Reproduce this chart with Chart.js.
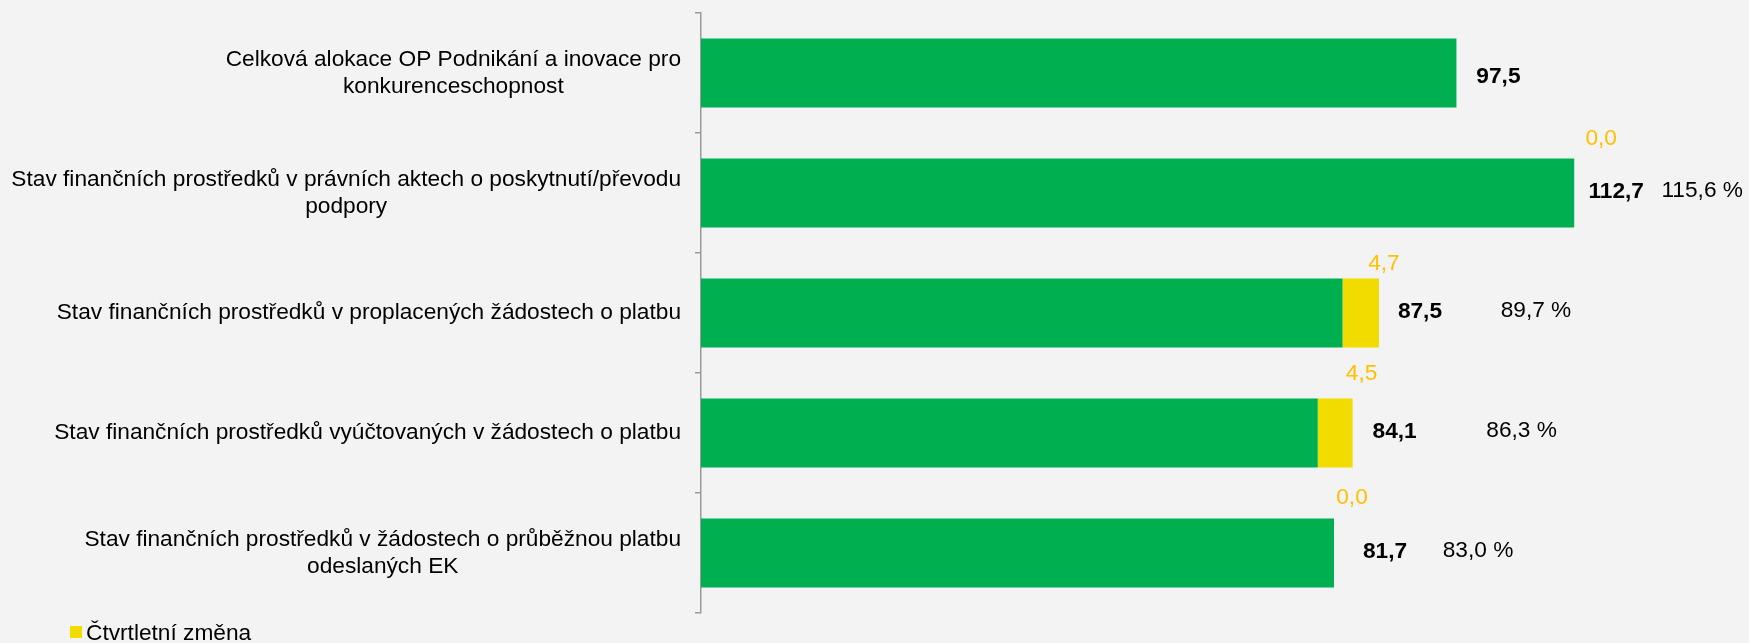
<!DOCTYPE html>
<html>
<head>
<meta charset="utf-8">
<script src="https://cdn.jsdelivr.net/npm/chart.js@4/dist/chart.umd.min.js"></script>
<style>
  html, body { margin: 0; padding: 0; background: #F3F3F3; }
  #wrap { width: 1749px; height: 643px; position: relative; }
</style>
</head>
<body>
<div id="wrap"><canvas id="c" width="1749" height="643"></canvas></div>
<script>
// ---- data ----
const categories = [
  ["Celková alokace OP Podnikání a inovace pro", "konkurenceschopnost"],
  ["Stav finančních prostředků v právních aktech o poskytnutí/převodu", "podpory"],
  ["Stav finančních prostředků v proplacených žádostech o platbu"],
  ["Stav finančních prostředků vyúčtovaných v žádostech o platbu"],
  ["Stav finančních prostředků v žádostech o průběžnou platbu", "odeslaných EK"]
];
const baseValues = [97.5, 112.7, 82.8, 79.6, 81.7];      // green part
const changeValues = [null, 0.0, 4.7, 4.5, 0.0];          // quarterly change (yellow)
const shareValues = [null, 115.6, 89.7, 86.3, 83.0];      // % of allocation
const seriesNames = ["Stav", "Čtvrtletní změna"];

const GREEN = '#00B050';
const YELLOW = '#F2DC00';
const GOLD = '#FFC000';
const FONT = '"Liberation Sans", Arial, sans-serif';
const FS = 22.7;

const fmt = (v, d) => v.toFixed(d).replace('.', ',');

// label placement tweaks (pixels, relative to bar end / bar geometry)
const totalDX = [42, 42, 41, 42, 51];
const totalDY = [4, -1, -1, -1, -1];
const shareDX = [0, 157, 157, 169, 144];
const changeDX = [0, 27, 5, 9, 18];
const changeDY = [0, -20, -15, -25, -21];

const labelPlugin = {
  id: 'customLabels',
  afterDraw(chart) {
    const ctx = chart.ctx;
    const xs = chart.scales.x;
    const area = chart.chartArea;
    const meta0 = chart.getDatasetMeta(0);
    ctx.save();
    ctx.textBaseline = 'middle';
    categories.forEach((lines, i) => {
      const bar = meta0.data[i];
      const yc = bar.y;
      const top = yc - bar.height / 2;
      const total = baseValues[i] + (changeValues[i] || 0);
      const xEnd = xs.getPixelForValue(total);

      // category label (block right-aligned, lines centered)
      ctx.font = FS + 'px ' + FONT;
      ctx.fillStyle = '#000';
      const maxW = Math.max(...lines.map(l => ctx.measureText(l).width));
      const cx = area.left - 20 - maxW / 2;
      const lh = 27;
      ctx.textAlign = 'center';
      lines.forEach((l, k) => {
        ctx.fillText(l, cx, yc - (lines.length - 1) * lh / 2 + k * lh);
      });

      // bold total
      ctx.font = 'bold ' + FS + 'px ' + FONT;
      ctx.fillStyle = '#000';
      ctx.textAlign = 'center';
      ctx.fillText(fmt(total, 1), xEnd + totalDX[i], yc + totalDY[i]);

      // share %
      if (shareValues[i] != null) {
        ctx.font = FS + 'px ' + FONT;
        const txt = fmt(shareValues[i], 1) + ' %';
        const w = ctx.measureText(txt).width;
        let px = xEnd + shareDX[i];
        px = Math.min(px, area.right - 4 - w / 2);
        ctx.fillStyle = '#000';
        ctx.fillText(txt, px, yc - 2);
      }

      // quarterly change
      if (changeValues[i] != null) {
        ctx.font = FS + 'px ' + FONT;
        ctx.fillStyle = GOLD;
        ctx.fillText(fmt(changeValues[i], 1), xEnd + changeDX[i], top + changeDY[i]);
      }
    });

    // legend (yellow series only)
    ctx.fillStyle = YELLOW;
    ctx.fillRect(70, 626, 12, 12);
    ctx.font = FS + 'px ' + FONT;
    ctx.fillStyle = '#000';
    ctx.textAlign = 'left';
    ctx.fillText(seriesNames[1], 86, 634);
    ctx.restore();
  }
};

const bgPlugin = {
  id: 'bg',
  beforeDraw(chart) {
    const ctx = chart.ctx;
    ctx.save();
    ctx.fillStyle = '#F3F3F3';
    ctx.fillRect(0, 0, chart.width, chart.height);
    ctx.restore();
  }
};

new Chart(document.getElementById('c'), {
  type: 'bar',
  data: {
    labels: categories.map(c => c.join(' ')),
    datasets: [
      { label: seriesNames[0], data: baseValues, backgroundColor: GREEN, borderWidth: 0,
        barPercentage: 0.575, categoryPercentage: 1 },
      { label: seriesNames[1], data: changeValues, backgroundColor: YELLOW, borderWidth: 0,
        barPercentage: 0.575, categoryPercentage: 1 }
    ]
  },
  options: {
    indexAxis: 'y',
    responsive: false,
    animation: false,
    devicePixelRatio: 1,
    layout: { padding: { top: 13, bottom: 30, left: 0, right: 2 } },
    plugins: { legend: { display: false }, tooltip: { enabled: false } },
    scales: {
      x: { stacked: true, display: false, min: 0, max: 135 },
      y: {
        stacked: true,
        ticks: { display: false },
        grid: { display: true, drawOnChartArea: false, drawTicks: true, tickLength: 6,
                color: '#9a9a9a', lineWidth: 1.5, offset: true },
        border: { display: true, color: '#9a9a9a', width: 1.5 },
        afterFit(scale) { scale.width = 701; }
      }
    }
  },
  plugins: [bgPlugin, labelPlugin]
});
</script>
</body>
</html>
